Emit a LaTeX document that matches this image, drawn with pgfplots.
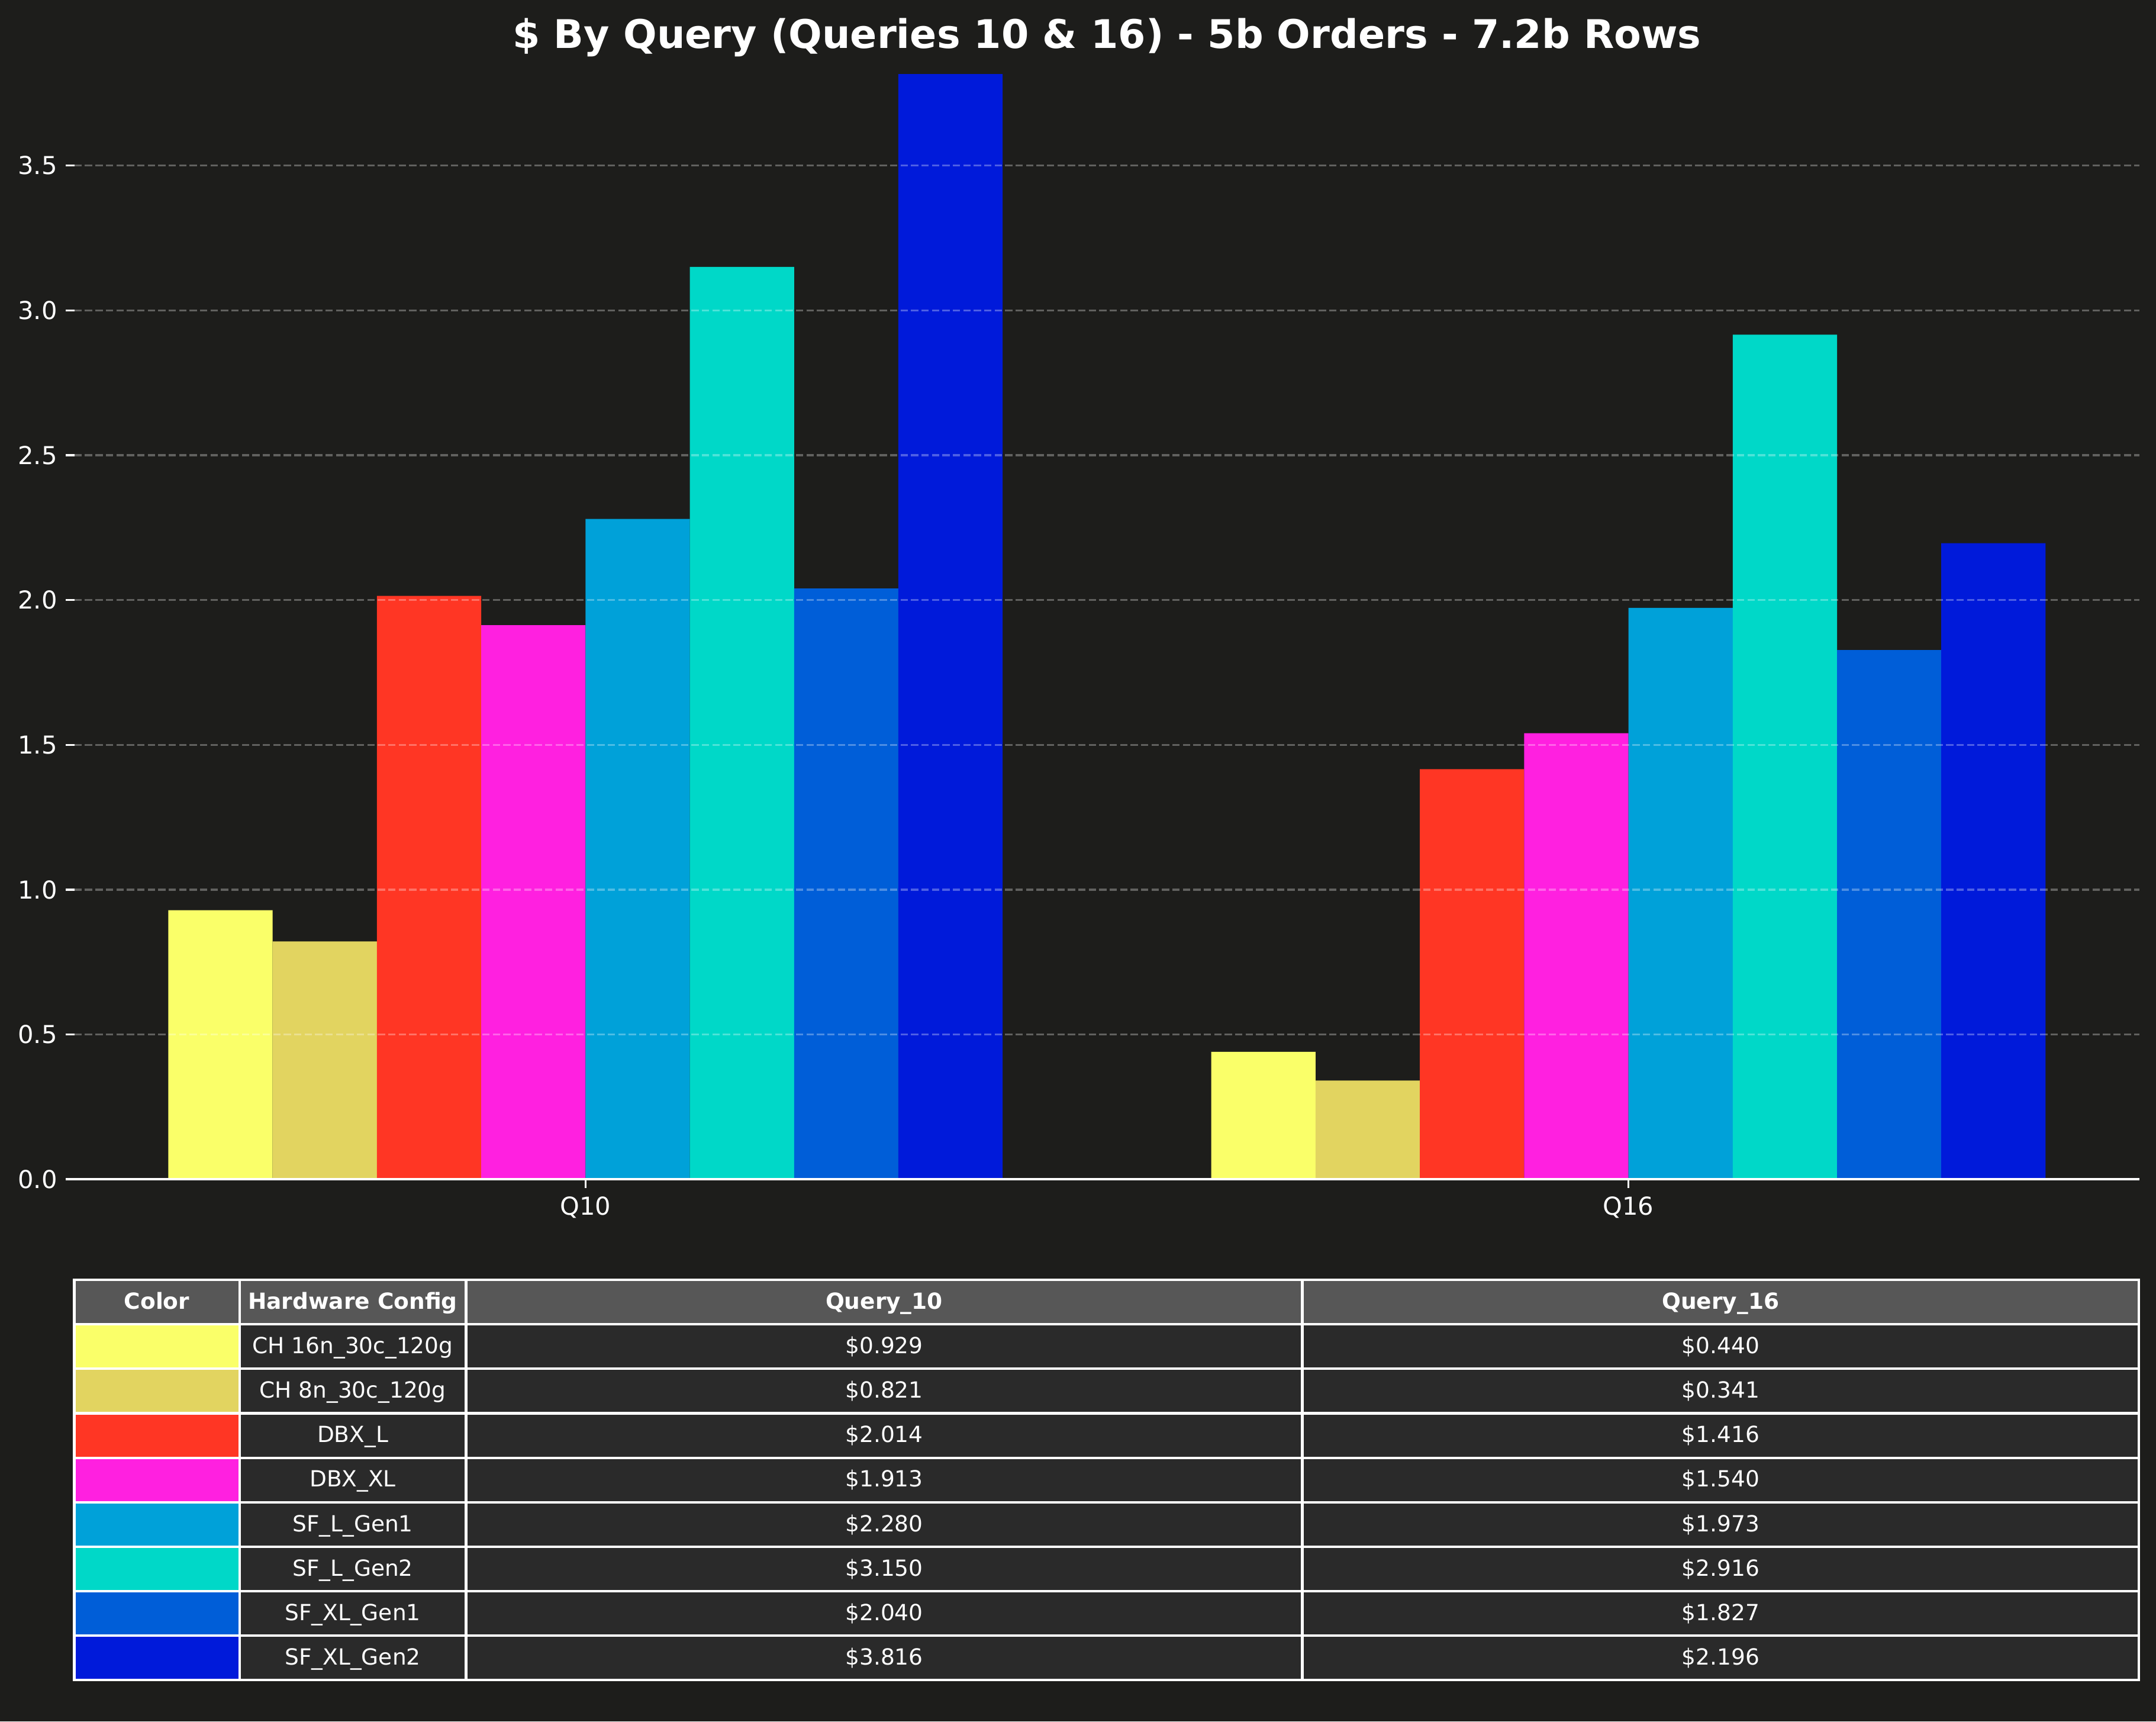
\documentclass[border=0pt]{standalone}
\usepackage{fontspec}
\setmainfont{DejaVu Sans}
\usepackage{pgfplots}
\pgfplotsset{compat=1.18}

\definecolor{bg}{RGB}{29,29,27}
\definecolor{hd}{RGB}{87,87,87}
\definecolor{cell}{RGB}{42,42,42}
\definecolor{c1}{RGB}{250,255,105}
\definecolor{c2}{RGB}{226,212,96}
\definecolor{c3}{RGB}{255,54,36}
\definecolor{c4}{RGB}{255,32,224}
\definecolor{c5}{RGB}{0,161,217}
\definecolor{c6}{RGB}{0,216,200}
\definecolor{c7}{RGB}{0,94,216}
\definecolor{c8}{RGB}{0,26,218}

\begin{document}
\begin{tikzpicture}
\fill[bg] (0,0) rectangle (874.32pt,697.92pt);

\node[anchor=base, text=white, font=\bfseries\fontsize{16}{19}\selectfont]
  at (448.9pt,678.3pt) {\$ By Query (Queries 10 \& 16) - 5b Orders - 7.2b Rows};

\begin{axis}[
    at={(30.2pt,219.8pt)}, anchor=south west,
    scale only axis, width=837.4pt, height=448.1pt,
    xmin=-0.49, xmax=1.49, ymin=0, ymax=3.816,
    ybar, bar width=0.1,
    axis x line=bottom, axis y line=left,
    x axis line style={white, line width=0.8pt, -},
    y axis line style={draw=none},
    tick align=outside,
    major tick length=3.5pt,
    tick style={white, line width=0.8pt},
    xtick={0,1}, xticklabels={Q10,Q16},
    ytick={0,0.5,1,1.5,2,2.5,3,3.5},
    /pgf/number format/assume math mode=true,
    yticklabel style={/pgf/number format/fixed, /pgf/number format/fixed zerofill,
        /pgf/number format/precision=1},
    ticklabel style={text=white, font=\fontsize{10}{12}\selectfont},
    ymajorgrids,
    grid style={white, opacity=0.3, line width=0.8pt, dash pattern=on 2.96pt off 1.28pt},
    axis on top,
]
\addplot[fill=c1, draw=none, bar shift=-0.35] coordinates {(0,0.929) (1,0.440)};
\addplot[fill=c2, draw=none, bar shift=-0.25] coordinates {(0,0.821) (1,0.341)};
\addplot[fill=c3, draw=none, bar shift=-0.15] coordinates {(0,2.014) (1,1.416)};
\addplot[fill=c4, draw=none, bar shift=-0.05] coordinates {(0,1.913) (1,1.540)};
\addplot[fill=c5, draw=none, bar shift=0.05] coordinates {(0,2.280) (1,1.973)};
\addplot[fill=c6, draw=none, bar shift=0.15] coordinates {(0,3.150) (1,2.916)};
\addplot[fill=c7, draw=none, bar shift=0.25] coordinates {(0,2.040) (1,1.827)};
\addplot[fill=c8, draw=none, bar shift=0.35] coordinates {(0,3.816) (1,2.196)};
\end{axis}

% table below the chart
\def\tabtop{179.0}
\def\rowh{18.03}
\pgfmathsetmacro\yb{\tabtop-\rowh}
\pgfmathsetmacro\ybase{\tabtop-0.5*\rowh-2.8}
\fill[hd] (30.1pt,\yb pt) rectangle (867.4pt,\tabtop pt);
\foreach \xa/\xb in {30.1/97.1, 97.1/189.0, 189.0/528.1, 528.1/867.4}
  \draw[white, line width=1pt] (\xa pt,\yb pt) rectangle (\xb pt,\tabtop pt);
\begin{scope}[every node/.style={anchor=base, text=white, inner sep=0pt,
    font=\bfseries\fontsize{9}{11}\selectfont}]
\node at (63.6pt,\ybase pt) {Color};
\node at (143.05pt,\ybase pt) {Hardware Config};
\node at (358.55pt,\ybase pt) {Query\_10};
\node at (697.75pt,\ybase pt) {Query\_16};
\end{scope}

\foreach \i/\col/\name/\qa/\qb in {
    1/c1/{CH 16n\_30c\_120g}/0.929/0.440,
    2/c2/{CH 8n\_30c\_120g}/0.821/0.341,
    3/c3/{DBX\_L}/2.014/1.416,
    4/c4/{DBX\_XL}/1.913/1.540,
    5/c5/{SF\_L\_Gen1}/2.280/1.973,
    6/c6/{SF\_L\_Gen2}/3.150/2.916,
    7/c7/{SF\_XL\_Gen1}/2.040/1.827,
    8/c8/{SF\_XL\_Gen2}/3.816/2.196}{
  \pgfmathsetmacro\yt{\tabtop-\i*\rowh}
  \pgfmathsetmacro\yb{\tabtop-(\i+1)*\rowh}
  \pgfmathsetmacro\ybase{\tabtop-(\i+0.5)*\rowh-2.8}
  \fill[\col] (30.1pt,\yb pt) rectangle (97.1pt,\yt pt);
  \fill[cell] (97.1pt,\yb pt) rectangle (867.4pt,\yt pt);
  \foreach \xa/\xb in {30.1/97.1, 97.1/189.0, 189.0/528.1, 528.1/867.4}
    \draw[white, line width=1pt] (\xa pt,\yb pt) rectangle (\xb pt,\yt pt);
  \node[anchor=base, text=white, inner sep=0pt, font=\fontsize{9}{11}\selectfont]
    at (143.05pt,\ybase pt) {\name};
  \node[anchor=base, text=white, inner sep=0pt, font=\fontsize{9}{11}\selectfont]
    at (358.55pt,\ybase pt) {\$\qa};
  \node[anchor=base, text=white, inner sep=0pt, font=\fontsize{9}{11}\selectfont]
    at (697.75pt,\ybase pt) {\$\qb};
}

\pgfresetboundingbox
\path[use as bounding box] (0,0) rectangle (874.32pt,697.92pt);
\end{tikzpicture}
\end{document}
